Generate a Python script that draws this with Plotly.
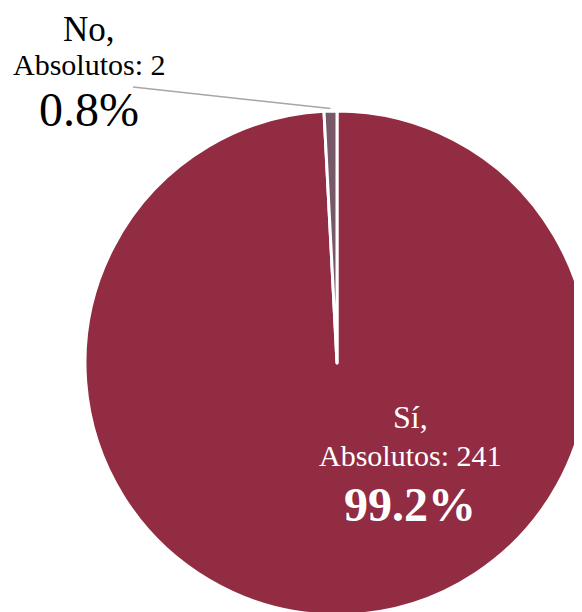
import math
import plotly.graph_objects as go

# ---- data ----
labels = ["Sí", "No"]
values = [241, 2]
colors = ["#922C42", "#765868"]

W, H = 582, 612
OFF = 8  # page body margin offset
total = sum(values)
pcts = [v / total * 100 for v in values]

# pie geometry in page pixels
cx, cy, r = 337, 363, 252


def px(x):
    return (x - OFF) / W


def py(y):
    return 1 - (y - OFF) / H


fig = go.Figure(go.Pie(
    labels=labels,
    values=values,
    sort=False,
    direction="clockwise",
    rotation=0,
    textinfo="none",
    hoverinfo="label+value+percent",
    marker=dict(colors=colors, line=dict(color="white", width=3)),
    domain=dict(x=[px(cx - r), px(cx + r)], y=[py(cy + r), py(cy - r)]),
    showlegend=False,
))

font_family = "Liberation Serif"
ann = []


def add_label(x, ys, texts, sizes, color, bolds):
    for y, t, s, b in zip(ys, texts, sizes, bolds):
        ann.append(dict(
            x=px(x), y=py(y), xref="paper", yref="paper",
            text=f"<b>{t}</b>" if b else t, showarrow=False,
            xanchor="center", yanchor="middle",
            font=dict(family=font_family, size=s, color=color),
        ))


# Sí label (inside)
add_label(410, [417, 455, 504],
          [f"{labels[0]},", f"Absolutos: {values[0]}", f"{pcts[0]:.1f}%"],
          [32, 30, 48], "white", [False, False, True])
# No label (outside)
add_label(89, [30, 64, 110],
          [f"{labels[1]},", f"Absolutos: {values[1]}", f"{pcts[1]:.1f}%"],
          [35, 30, 48], "black", [False, False, False])

# leader line from label to middle of "No" slice
theta = 2 * math.pi * (values[0] + values[1] / 2) / total
ex = cx + r * 1.01 * math.sin(theta)
ey = cy - r * 1.01 * math.cos(theta)
shapes = [dict(type="line", xref="paper", yref="paper",
               x0=px(133), y0=py(87), x1=px(ex), y1=py(ey),
               line=dict(color="#A6A6A6", width=1.5))]

fig.update_layout(
    width=W, height=H,
    margin=dict(l=0, r=0, t=0, b=0),
    paper_bgcolor="white", plot_bgcolor="white",
    annotations=ann, shapes=shapes,
)

fig.write_html("out.html")
